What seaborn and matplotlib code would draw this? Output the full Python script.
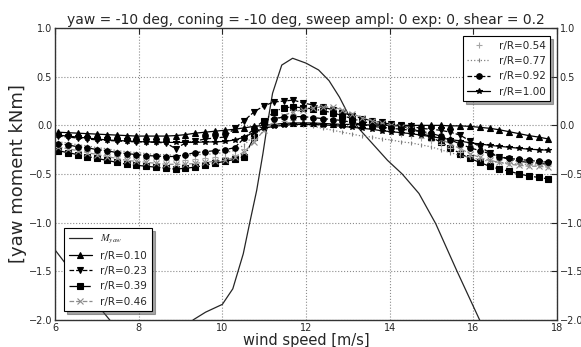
import numpy as np
import matplotlib
matplotlib.use("Agg")
import matplotlib.pyplot as plt
import seaborn as sns
from matplotlib.lines import Line2D

# ---------------- data ----------------
wind = np.round(6.07 + 0.2345 * np.arange(51), 3)

r010 = [-0.07, -0.075, -0.08, -0.085, -0.09, -0.095, -0.10, -0.105, -0.11, -0.11,
        -0.11, -0.11, -0.105, -0.095, -0.08, -0.07, -0.06, -0.05, -0.04, -0.025,
        -0.01, 0.0, 0.01, 0.02, 0.025, 0.025, 0.025, 0.02, 0.015, 0.01,
        0.01, 0.005, 0.005, 0.0, 0.0, 0.0, 0.0, 0.0, 0.0, 0.0,
        -0.005, -0.005, -0.01, -0.02, -0.03, -0.045, -0.065, -0.085, -0.105, -0.12, -0.14]
r023 = [-0.11, -0.12, -0.13, -0.14, -0.15, -0.155, -0.16, -0.165, -0.17, -0.17,
        -0.175, -0.18, -0.24, -0.18, -0.16, -0.14, -0.13, -0.12, -0.03, 0.05,
        0.14, 0.20, 0.24, 0.25, 0.26, 0.23, 0.21, 0.19, 0.16, 0.13,
        0.10, 0.07, 0.05, 0.03, 0.01, 0.0, -0.01, -0.03, -0.04, -0.05,
        -0.07, -0.10, -0.16, -0.22, -0.28, -0.32, -0.35, -0.37, -0.38, -0.39, -0.40]
r039 = [-0.26, -0.28, -0.30, -0.32, -0.34, -0.36, -0.38, -0.40, -0.41, -0.42,
        -0.43, -0.44, -0.45, -0.44, -0.43, -0.41, -0.39, -0.37, -0.35, -0.32,
        -0.12, 0.04, 0.14, 0.18, 0.19, 0.18, 0.17, 0.15, 0.13, 0.10,
        0.07, 0.04, 0.02, 0.01, 0.0, -0.01, -0.03, -0.07, -0.12, -0.17,
        -0.23, -0.29, -0.34, -0.38, -0.42, -0.45, -0.47, -0.50, -0.52, -0.535, -0.55]
r046 = [-0.22, -0.24, -0.26, -0.28, -0.30, -0.32, -0.34, -0.36, -0.37, -0.38,
        -0.39, -0.40, -0.40, -0.40, -0.39, -0.38, -0.37, -0.36, -0.33, -0.27,
        -0.17, -0.05, 0.04, 0.10, 0.14, 0.16, 0.18, 0.19, 0.19, 0.16,
        0.12, 0.08, 0.05, 0.02, 0.0, -0.02, -0.04, -0.07, -0.10, -0.14,
        -0.19, -0.24, -0.29, -0.33, -0.36, -0.38, -0.40, -0.41, -0.42, -0.42, -0.43]
r054 = [-0.20, -0.22, -0.24, -0.26, -0.28, -0.29, -0.31, -0.32, -0.33, -0.34,
        -0.35, -0.355, -0.36, -0.36, -0.35, -0.34, -0.33, -0.32, -0.30, -0.24,
        -0.14, -0.04, 0.02, 0.05, 0.06, 0.07, 0.07, 0.06, 0.05, 0.03,
        0.01, -0.01, -0.03, -0.05, -0.07, -0.09, -0.11, -0.13, -0.16, -0.19,
        -0.23, -0.27, -0.31, -0.34, -0.36, -0.38, -0.39, -0.40, -0.41, -0.41, -0.42]
r077 = [-0.17, -0.18, -0.20, -0.21, -0.23, -0.24, -0.26, -0.27, -0.28, -0.29,
        -0.30, -0.30, -0.31, -0.31, -0.30, -0.30, -0.29, -0.28, -0.26, -0.20,
        -0.10, -0.03, 0.0, 0.01, 0.01, 0.0, -0.01, -0.03, -0.05, -0.07,
        -0.09, -0.11, -0.12, -0.14, -0.15, -0.17, -0.18, -0.20, -0.22, -0.25,
        -0.28, -0.31, -0.33, -0.35, -0.37, -0.38, -0.39, -0.40, -0.40, -0.41, -0.41]
r092 = [-0.19, -0.20, -0.22, -0.23, -0.25, -0.26, -0.28, -0.29, -0.30, -0.31,
        -0.315, -0.32, -0.32, -0.30, -0.28, -0.27, -0.26, -0.25, -0.23, -0.13,
        -0.03, 0.05, 0.07, 0.085, 0.09, 0.09, 0.08, 0.07, 0.06, 0.05,
        0.03, 0.01, -0.01, -0.02, -0.03, -0.04, -0.05, -0.06, -0.08, -0.11,
        -0.15, -0.19, -0.23, -0.26, -0.29, -0.32, -0.34, -0.35, -0.36, -0.37, -0.38]
r100 = [-0.10, -0.11, -0.12, -0.13, -0.14, -0.15, -0.155, -0.16, -0.165, -0.17,
        -0.17, -0.175, -0.175, -0.175, -0.175, -0.17, -0.17, -0.165, -0.15, -0.12,
        -0.07, -0.03, -0.01, 0.0, 0.01, 0.01, 0.01, 0.005, 0.0, -0.01,
        -0.02, -0.03, -0.04, -0.055, -0.065, -0.075, -0.085, -0.10, -0.115, -0.13,
        -0.145, -0.16, -0.18, -0.19, -0.205, -0.215, -0.225, -0.235, -0.245, -0.25, -0.255]

myaw_ws = [5.75, 6.0, 6.5, 7.0, 7.5, 8.0, 8.5, 9.0, 9.3, 9.6, 10.0, 10.25, 10.5, 10.65,
           10.82, 10.97, 11.08, 11.2, 11.42, 11.68, 12.0, 12.3, 12.55, 12.8, 13.05,
           13.3, 13.95, 14.3, 14.7, 15.1, 15.6, 16.15, 16.5]
myaw = [-1.14, -1.28, -1.56, -1.84, -2.1, -2.3, -2.35, -2.2, -2.0, -1.92, -1.84, -1.68,
        -1.32, -1.01, -0.67, -0.29, 0.02, 0.33, 0.62, 0.69, 0.64, 0.57, 0.46, 0.29,
        0.08, -0.05, -0.36, -0.5, -0.7, -1.01, -1.49, -2.0, -2.35]

title = "yaw = -10 deg, coning = -10 deg, sweep ampl: 0 exp: 0, shear = 0.2"
xticks = [6, 8, 10, 12, 14, 16, 18]
yticks = [-2.0, -1.5, -1.0, -0.5, 0.0, 0.5, 1.0]

# ---------------- style ----------------
sns.set_style("white")
plt.rcParams["font.family"] = ["DejaVu Sans"]
plt.rcParams["mathtext.fontset"] = "stix"

fig = plt.figure(figsize=(5.81, 3.47), dpi=100)
ax = fig.add_axes([0.0947, 0.078, 0.8640, 0.841])

series = [
    ("r/R=0.10", r010, dict(color="black", marker="^", linestyle="-", markersize=4.0, mec="black", mfc="black")),
    ("r/R=0.23", r023, dict(color="black", marker="v", linestyle="--", markersize=4.0, mec="black", mfc="black")),
    ("r/R=0.39", r039, dict(color="black", marker="s", linestyle="-.", markersize=4.0, mec="black", mfc="black")),
    ("r/R=0.46", r046, dict(color="0.55", marker="x", linestyle="--", markersize=4.0, mec="0.55", mfc="0.55")),
    ("r/R=0.54", r054, dict(color="0.65", marker="+", linestyle="", markersize=4.0, mec="0.65", mfc="0.65")),
    ("r/R=0.77", r077, dict(color="0.5", marker="|", linestyle=":", markersize=3.5, mec="0.5", mfc="0.5")),
    ("r/R=0.92", r092, dict(color="black", marker="o", linestyle="--", markersize=4.0, mec="black", mfc="black")),
    ("r/R=1.00", r100, dict(color="black", marker="*", linestyle="-", markersize=3.8, mec="black", mfc="black")),
]

handles = {}
sns.lineplot(x=myaw_ws, y=myaw, ax=ax, color="0.15", linewidth=0.9, sort=False,
             estimator=None)
handles["myaw"] = Line2D([], [], color="0.15", linewidth=0.9)
for name, vals, kw in series:
    sns.lineplot(x=wind, y=vals, ax=ax, linewidth=0.9, sort=False, estimator=None,
                 markeredgewidth=0.8, **kw)
    handles[name] = Line2D([], [], linewidth=0.9, markeredgewidth=0.8, **kw)

ax.set_xlim(6, 18)
ax.set_ylim(-2, 1)
ax.set_xticks(xticks)
ax.set_yticks(yticks)
ax.set_xticklabels([str(t) for t in xticks])
ax.set_yticklabels([f"{t:.1f}".replace("-", "\u2212") for t in yticks])
ax.tick_params(axis="both", labelsize=7, direction="in", length=4, width=0.8,
               top=True, right=True, labelright=True, pad=2)
ax.grid(True, color="0.55", linestyle=":", linewidth=0.8)
for sp in ax.spines.values():
    sp.set_color("0.2")
    sp.set_linewidth(1.0)

ax.set_xlabel("wind speed [m/s]", fontsize=10.5, labelpad=0)
ax.set_ylabel("[yaw moment kNm]", fontsize=13, labelpad=1)
ax.set_title(title, fontsize=10, pad=3)

leg1 = ax.legend([handles[n] for n in ["r/R=0.54", "r/R=0.77", "r/R=0.92", "r/R=1.00"]],
                 ["r/R=0.54", "r/R=0.77", "r/R=0.92", "r/R=1.00"],
                 loc="upper right", fontsize=7.5, shadow=True, fancybox=False,
                 framealpha=1, edgecolor="black", handlelength=2.2,
                 borderpad=0.45, labelspacing=0.5, bbox_to_anchor=(0.997, 0.99))
leg1.get_frame().set_linewidth(0.8)
ax.add_artist(leg1)
leg2 = ax.legend([handles[n] for n in ["myaw", "r/R=0.10", "r/R=0.23", "r/R=0.39", "r/R=0.46"]],
                 [r"$M_{yaw}$", "r/R=0.10", "r/R=0.23", "r/R=0.39", "r/R=0.46"],
                 loc="lower left", fontsize=7.5, shadow=True, fancybox=False,
                 framealpha=1, edgecolor="black", handlelength=2.2,
                 borderpad=0.45, labelspacing=0.5, bbox_to_anchor=(0.008, 0.012))
leg2.get_frame().set_linewidth(0.8)

fig.savefig("out.png", dpi=100)
